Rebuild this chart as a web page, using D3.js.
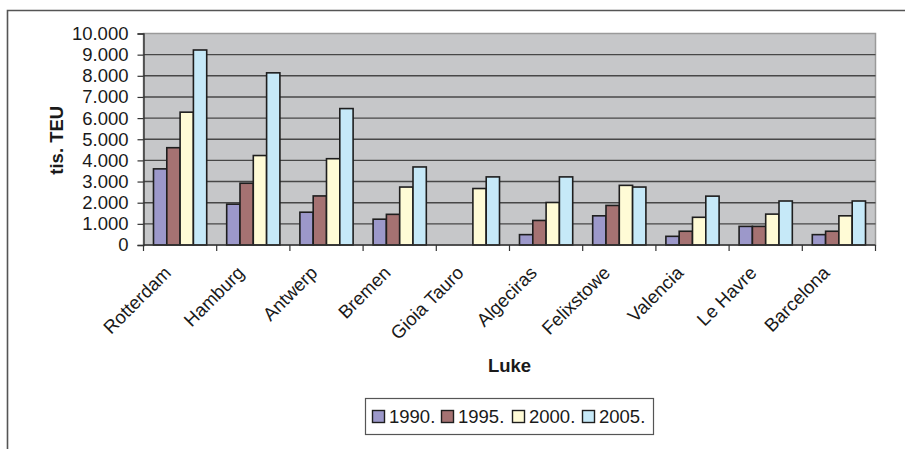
<!DOCTYPE html>
<html>
<head>
<meta charset="utf-8">
<script src="https://cdn.jsdelivr.net/npm/d3@7"></script>
<style>
  html, body { margin: 0; padding: 0; background: #fff; }
  svg { display: block; font-family: "Liberation Sans", Arial, sans-serif; }
</style>
</head>
<body>
<svg id="chart" width="905" height="449"></svg>
<script>
// Container throughput of the largest European ports (thousand TEU)
const ports = ["Rotterdam", "Hamburg", "Antwerp", "Bremen", "Gioia Tauro",
               "Algeciras", "Felixstowe", "Valencia", "Le Havre", "Barcelona"];
const years = ["1990.", "1995.", "2000.", "2005."];
const teu1990 = [3600, 1930, 1550, 1220, 0, 490, 1380, 410, 880, 490];
const teu1995 = [4600, 2920, 2320, 1450, 0, 1160, 1870, 650, 880, 650];
const teu2000 = [6280, 4230, 4080, 2740, 2670, 2010, 2820, 1310, 1460, 1380];
const teu2005 = [9220, 8140, 6450, 3690, 3220, 3220, 2740, 2310, 2080, 2080];
const yTicks = [0, 1000, 2000, 3000, 4000, 5000, 6000, 7000, 8000, 9000, 10000];
const colors = ["#9C98CA", "#A57272", "#FFFBD6", "#C6E9F8"];

const series = [teu1990, teu1995, teu2000, teu2005];

const svg = d3.select("#chart");
const plot = { left: 143.5, right: 875.5, top: 33.5, bottom: 245 };

// outer frame of the chart object
svg.append("path")
  .attr("d", "M7.5,449 V10.5 H905")
  .attr("fill", "none").attr("stroke", "#555").attr("stroke-width", 1.6);

const x0 = d3.scaleBand().domain(ports).range([plot.left, plot.right]).paddingInner(0).paddingOuter(0);
const groupPad = 0.1365;
const x1 = d3.scaleBand().domain(years)
  .range([x0.bandwidth() * groupPad, x0.bandwidth() * (1 - groupPad)]);
const y = d3.scaleLinear().domain([0, 10000]).range([plot.bottom, plot.top]);

// plot area
svg.append("rect")
  .attr("x", plot.left).attr("y", plot.top)
  .attr("width", plot.right - plot.left).attr("height", plot.bottom - plot.top)
  .attr("fill", "#C6C7C9").attr("stroke", "#9a9a9a").attr("stroke-width", 1.5);

// horizontal gridlines
svg.append("g").selectAll("line")
  .data(yTicks.filter(v => v > 0 && v < 10000))
  .join("line")
  .attr("x1", plot.left).attr("x2", plot.right)
  .attr("y1", d => y(d)).attr("y2", d => y(d))
  .attr("stroke", "#474747").attr("stroke-width", 1.4);

// bars
const groups = svg.append("g").selectAll("g")
  .data(ports)
  .join("g")
  .attr("transform", d => `translate(${x0(d)},0)`);

groups.selectAll("rect")
  .data((p, i) => years.map((yr, k) => ({ yr, k, v: series[k][i] })).filter(d => d.v > 0))
  .join("rect")
  .attr("x", d => x1(d.yr))
  .attr("width", x1.bandwidth())
  .attr("y", d => y(d.v))
  .attr("height", d => y(0) - y(d.v))
  .attr("fill", d => colors[d.k])
  .attr("stroke", "#1e1e1e").attr("stroke-width", 1.6);

// y axis
const loc = d3.formatLocale({ decimal: ",", thousands: ".", grouping: [3], currency: ["", ""] });
const yAxis = d3.axisLeft(y).tickValues(yTicks).tickFormat(loc.format(",d"))
  .tickSize(6).tickPadding(9);
const gy = svg.append("g").attr("transform", `translate(${plot.left},0)`).call(yAxis);
gy.select(".domain").attr("stroke", "#333").attr("stroke-width", 1.4);
gy.selectAll(".tick line").attr("stroke", "#333").attr("stroke-width", 1.2);
gy.selectAll(".tick text")
  .attr("font-size", 18.5).attr("fill", "#1a1a1a")
  .attr("font-family", "'Liberation Sans', Arial, sans-serif");

// x axis: tick marks at category boundaries
const gx = svg.append("g");
gx.append("line")
  .attr("x1", plot.left).attr("x2", plot.right)
  .attr("y1", plot.bottom).attr("y2", plot.bottom)
  .attr("stroke", "#333").attr("stroke-width", 1.4);
gx.selectAll("line.b")
  .data(ports.map(p => x0(p)).concat([plot.right]))
  .join("line").attr("class", "b")
  .attr("x1", d => d).attr("x2", d => d)
  .attr("y1", plot.bottom).attr("y2", plot.bottom + 6)
  .attr("stroke", "#333").attr("stroke-width", 1.2);

gx.selectAll("text")
  .data(ports)
  .join("text")
  .attr("transform", d => `translate(${x0(d) + x0.bandwidth() / 2 - 8},${plot.bottom + 29}) rotate(-45)`)
  .attr("text-anchor", "end")
  .attr("font-size", 18.5).attr("fill", "#1a1a1a")
  .text(d => d);

// axis titles
svg.append("text")
  .attr("transform", `translate(63,${(plot.top + plot.bottom) / 2 + 1}) rotate(-90)`)
  .attr("text-anchor", "middle")
  .attr("font-size", 18.5).attr("font-weight", "bold").attr("fill", "#1a1a1a")
  .text("tis. TEU");

svg.append("text")
  .attr("x", (plot.left + plot.right) / 2).attr("y", 372)
  .attr("text-anchor", "middle")
  .attr("font-size", 18.5).attr("font-weight", "bold").attr("fill", "#1a1a1a")
  .text("Luke");

// legend
const legend = svg.append("g");
legend.append("rect")
  .attr("x", 365.5).attr("y", 398.5).attr("width", 288).attr("height", 36)
  .attr("fill", "#fff").attr("stroke", "#555").attr("stroke-width", 1.2);
const legX = [372, 441, 512, 582];
const items = legend.selectAll("g.item")
  .data(years)
  .join("g").attr("class", "item")
  .attr("transform", (d, i) => `translate(${legX[i]},0)`);
items.append("rect")
  .attr("x", 0.5).attr("y", 410.5).attr("width", 12).attr("height", 12)
  .attr("fill", (d, i) => colors[i]).attr("stroke", "#1e1e1e").attr("stroke-width", 1.4);
items.append("text")
  .attr("x", 17).attr("y", 423)
  .attr("font-size", 18.5).attr("fill", "#1a1a1a")
  .text(d => d);
</script>
</body>
</html>
